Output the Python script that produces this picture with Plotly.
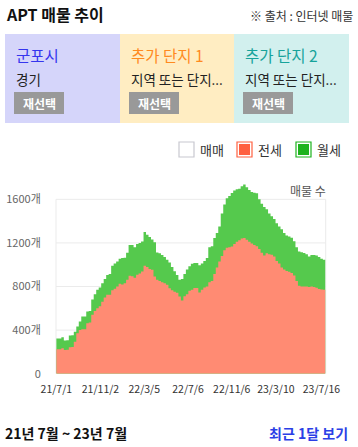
import pandas as pd
import plotly.graph_objects as go

# ---- data (weekly readings, 2021-07-01 onward) ----
start_date = "2021-07-01"
total_listings = [
    322, 322, 335, 304, 308, 350, 352, 386, 432, 478,
    524, 524, 570, 575, 680, 730, 770, 790, 830, 870,
    905, 915, 990, 1010, 1030, 1055, 1062, 1065, 1110, 1181,
    1181, 1160, 1190, 1200, 1214, 1300, 1276, 1255, 1232, 1205,
    1113, 1105, 1090, 1070, 1046, 1020, 980, 940, 905, 862,
    868, 915, 955, 985, 1009, 1015, 1015, 995, 1010, 1035,
    1062, 1160, 1170, 1245, 1290, 1350, 1470, 1552, 1610, 1630,
    1658, 1680, 1692, 1698, 1720, 1735, 1710, 1685, 1668, 1660,
    1655, 1600, 1560, 1530, 1508, 1470, 1445, 1420, 1380, 1350,
    1325, 1290, 1268, 1258, 1248, 1215, 1160, 1122, 1115, 1108,
    1095, 1076, 1090, 1090, 1085, 1070, 1055, 1046, 1046,
]
jeonse = [
    224, 224, 233, 218, 220, 243, 245, 294, 371, 402,
    408, 408, 463, 470, 540, 575, 601, 620, 660, 700,
    724, 724, 765, 780, 800, 825, 818, 830, 862, 899,
    895, 880, 908, 920, 938, 990, 979, 960, 954, 892,
    862, 850, 840, 830, 816, 785, 765, 752, 742, 708,
    672, 710, 730, 760, 770, 786, 786, 745, 770, 790,
    800, 840, 850, 915, 975, 1030, 1080, 1132, 1155, 1160,
    1168, 1190, 1210, 1225, 1240, 1245, 1228, 1210, 1195, 1180,
    1170, 1145, 1110, 1085, 1105, 1095, 1092, 1075, 1035, 1010,
    975, 955, 942, 935, 925, 900, 850, 807, 800, 800,
    800, 795, 800, 795, 788, 778, 772, 770, 770,
]
tick_dates = ["2021-07-01", "2021-11-02", "2022-03-05", "2022-07-06",
              "2022-11-06", "2023-03-10", "2023-07-16"]
tick_labels = ["21/7/1", "21/11/2", "22/3/5", "22/7/6", "22/11/6", "23/3/10", "23/7/16"]
y_ticks = [0, 400, 800, 1200, 1600]
y_labels = ["0", "400개", "800개", "1200개", "1600개"]
x_range = ["2021-06-30", "2023-07-28"]

dates = pd.date_range(start_date, periods=len(total_listings), freq="7D")

W, H = 358, 447
FONT = "Noto Sans CJK KR"
GREEN = "#55C94D"
SALMON = "#FF8B73"


def px(x):
    return x / W


def py(y):
    return 1 - y / H


fig = go.Figure()
fig.add_trace(go.Scatter(x=dates, y=total_listings, mode="lines", line=dict(width=0, shape="hv"),
                         fill="tozeroy", fillcolor=GREEN, name="월세", hoverinfo="skip"))
fig.add_trace(go.Scatter(x=dates, y=jeonse, mode="lines", line=dict(width=0, shape="hv"),
                         fill="tozeroy", fillcolor=SALMON, name="전세", hoverinfo="skip"))

shapes = []
annotations = []

# grid box
GRID = "#EBEBEB"
for v in [400, 800, 1200, 1600]:
    shapes.append(dict(type="line", xref="x domain", yref="y", x0=0, x1=1, y0=v, y1=v,
                       line=dict(color=GRID, width=1), layer="below"))
for xv in [0, 1]:
    shapes.append(dict(type="line", xref="x domain", yref="y", x0=xv, x1=xv, y0=0, y1=1600,
                       line=dict(color=GRID, width=1), layer="below"))

# header
annotations.append(dict(text="<b>APT 매물 추이</b>", x=px(4), y=py(14), xref="paper", yref="paper",
                        xanchor="left", yanchor="middle", showarrow=False,
                        font=dict(size=16, color="#111", family=FONT)))
annotations.append(dict(text="※ 출처 : 인터넷 매물", x=px(355), y=py(16), xref="paper", yref="paper",
                        xanchor="right", yanchor="middle", showarrow=False,
                        font=dict(size=12, color="#333", family=FONT)))

# panels
panels = [
    (5, 120, "#D5D5FA", "군포시", "#3535EE", "경기"),
    (120, 234, "#FFEDC2", "추가 단지 1", "#FF8A1E", "지역 또는 단지..."),
    (234, 349, "#D2F0EE", "추가 단지 2", "#17A39B", "지역 또는 단지..."),
]
for x0, x1, bg, title, tcol, sub in panels:
    shapes.append(dict(type="rect", xref="paper", yref="paper", x0=px(x0), x1=px(x1),
                       y0=py(123), y1=py(34), fillcolor=bg, line=dict(width=0), layer="below"))
    annotations.append(dict(text=title, x=px(x0 + 8.5), y=py(55), xref="paper", yref="paper",
                            xanchor="left", yanchor="middle", showarrow=False,
                            font=dict(size=15.5, color=tcol, family=FONT)))
    annotations.append(dict(text=sub, x=px(x0 + 8.5), y=py(79), xref="paper", yref="paper",
                            xanchor="left", yanchor="middle", showarrow=False,
                            font=dict(size=13.5, color="#222", family=FONT)))
    shapes.append(dict(type="rect", xref="paper", yref="paper", x0=px(x0 + 9), x1=px(x0 + 59),
                       y0=py(114), y1=py(92), fillcolor="#999999", line=dict(width=0), layer="below"))
    annotations.append(dict(text="<b>재선택</b>", x=px(x0 + 34), y=py(103), xref="paper", yref="paper",
                            xanchor="center", yanchor="middle", showarrow=False,
                            font=dict(size=12, color="#FFFFFF", family=FONT)))

# legend
legend_items = [(179, "#C8C8D0", "#FFFFFF", "매매"), (237, "#FF6040", "#FF6040", "전세"),
                (296, "#1DB31D", "#1DB31D", "월세")]
for lx, border, fillc, label in legend_items:
    shapes.append(dict(type="rect", xref="paper", yref="paper", x0=px(lx), x1=px(lx + 15),
                       y0=py(157), y1=py(142), fillcolor="#FFFFFF",
                       line=dict(color=border, width=1.2), layer="above"))
    if fillc != "#FFFFFF":
        shapes.append(dict(type="rect", xref="paper", yref="paper", x0=px(lx + 2), x1=px(lx + 13),
                           y0=py(155), y1=py(144), fillcolor=fillc, line=dict(width=0), layer="above"))
    annotations.append(dict(text=label, x=px(lx + 19), y=py(150), xref="paper", yref="paper",
                            xanchor="left", yanchor="middle", showarrow=False,
                            font=dict(size=13, color="#333", family=FONT)))

annotations.append(dict(text="매물 수", x=px(328), y=py(190), xref="paper", yref="paper",
                        xanchor="right", yanchor="middle", showarrow=False,
                        font=dict(size=12, color="#555", family=FONT)))

# footer
annotations.append(dict(text="<b>21년 7월 ~ 23년 7월</b>", x=px(3), y=py(433), xref="paper", yref="paper",
                        xanchor="left", yanchor="middle", showarrow=False,
                        font=dict(size=14, color="#111", family=FONT)))
annotations.append(dict(text="<b>최근 1달 보기</b>", x=px(350), y=py(433), xref="paper", yref="paper",
                        xanchor="right", yanchor="middle", showarrow=False,
                        font=dict(size=14, color="#2B3FE6", family=FONT)))

fig.update_layout(
    width=W, height=H,
    margin=dict(l=0, r=0, t=0, b=0, pad=0),
    paper_bgcolor="#FFFFFF", plot_bgcolor="rgba(0,0,0,0)",
    showlegend=False,
    shapes=shapes, annotations=annotations,
    font=dict(family=FONT),
    xaxis=dict(domain=[px(56), px(325.7)], range=x_range, type="date", automargin=False,
               tickvals=tick_dates, ticktext=tick_labels, tickangle=0, showgrid=False, zeroline=False,
               showline=False, ticks="outside", ticklen=6, tickcolor="rgba(0,0,0,0)",
               tickfont=dict(size=10.5, color="#333", family=FONT), fixedrange=True),
    yaxis=dict(domain=[py(373.7), py(179.7)], range=[0, 1780], automargin=False,
               tickvals=y_ticks, ticktext=y_labels, showgrid=False, zeroline=False,
               showline=False, ticks="outside", ticklen=12, tickcolor="rgba(0,0,0,0)",
               tickfont=dict(size=11, color="#666", family=FONT), fixedrange=True),
)

fig.write_html(
    "out.html",
    config={"displayModeBar": False},
    post_script="document.documentElement.style.margin='0';document.body.style.margin='0';"
                "document.body.style.padding='0';document.body.style.overflow='hidden';",
)
